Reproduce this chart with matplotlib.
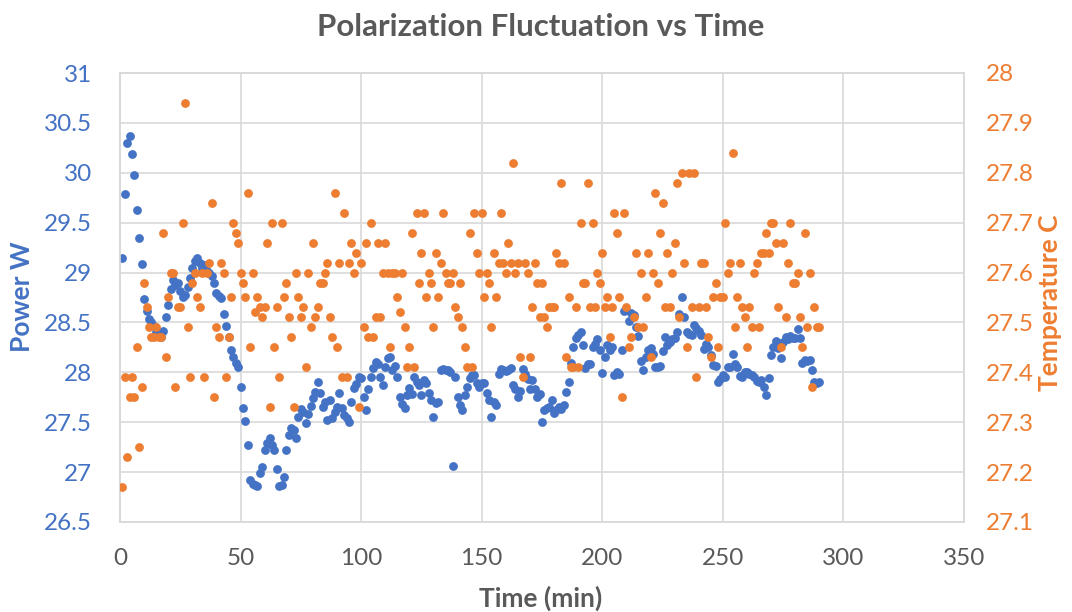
"""Polarization fluctuation vs time: laser power and temperature on twin axes."""

import matplotlib.pyplot as plt
from matplotlib.ticker import FuncFormatter, MultipleLocator

BLUE = "#4472C4"
ORANGE = "#ED7D31"
GRAY = "#595959"
GRID = "#D9D9D9"

# power (W), one reading per minute starting at minute 1
power_w = [
    29.15, 29.79, 30.30, 30.37, 30.19, 29.98, 29.63, 29.35, 29.09, 28.73,
    28.61, 28.53, 28.50, 28.46, 28.40, 28.38, 28.35, 28.41, 28.55, 28.67,
    28.84, 28.93, 28.88, 28.90, 28.82, 28.76, 28.78, 28.86, 28.95, 29.05,
    29.12, 29.15, 29.10, 29.05, 29.08, 29.02, 29.00, 28.97, 28.90, 28.80,
    28.77, 28.75, 28.58, 28.46, 28.35, 28.22, 28.15, 28.09, 28.05, 27.85,
    27.64, 27.51, 27.27, 26.92, 26.88, 26.87, 26.86, 26.99, 27.05, 27.22,
    27.29, 27.34, 27.27, 27.22, 27.03, 26.86, 26.87, 26.95, 27.22, 27.37,
    27.44, 27.42, 27.34, 27.55, 27.63, 27.60, 27.49, 27.58, 27.66, 27.74,
    27.80, 27.90, 27.79, 27.65, 27.70, 27.52, 27.72, 27.54, 27.60, 27.65,
    27.79, 27.64, 27.57, 27.54, 27.50, 27.70, 27.84, 27.88, 27.95, 27.94,
    27.75, 27.62, 27.83, 27.95, 28.04, 28.10, 28.08, 27.95, 27.87, 28.05,
    28.14, 28.15, 28.02, 28.06, 27.95, 27.75, 27.68, 27.64, 27.77, 27.84,
    27.78, 27.95, 27.90, 27.87, 27.77, 27.92, 27.89, 27.79, 27.72, 27.55,
    27.69, 27.70, 28.02, 28.03, 28.02, 28.02, 28.00, 27.06, 27.95, 27.75,
    27.67, 27.62, 27.77, 27.85, 27.94, 27.97, 27.97, 27.89, 27.85, 27.89,
    27.89, 27.79, 27.72, 27.55, 27.70, 27.67, 27.98, 28.03, 28.02, 28.01,
    28.02, 28.04, 27.87, 27.83, 27.75, 27.81, 28.03, 27.98, 27.93, 27.83,
    27.92, 27.83, 27.75, 27.78, 27.50, 27.62, 27.64, 27.65, 27.72, 27.59,
    27.62, 27.65, 27.63, 27.67, 27.80, 27.90, 28.09, 28.25, 28.34, 28.37,
    28.40, 28.27, 28.04, 28.08, 28.08, 28.25, 28.28, 28.33, 28.22, 27.99,
    28.15, 28.27, 28.22, 28.25, 27.97, 28.00, 27.98, 28.22, 28.61, 28.62,
    28.51, 28.59, 28.57, 28.45, 28.36, 28.11, 28.02, 28.15, 28.22, 28.24,
    28.18, 28.05, 28.05, 28.06, 28.21, 28.35, 28.27, 28.30, 28.33, 28.34,
    28.40, 28.58, 28.76, 28.55, 28.40, 28.38, 28.37, 28.47, 28.44, 28.41,
    28.37, 28.23, 28.28, 28.25, 28.17, 28.07, 28.06, 27.90, 27.93, 27.97,
    27.95, 28.05, 28.05, 28.18, 28.08, 28.05, 27.96, 27.95, 28.00, 28.00,
    27.98, 27.97, 27.95, 27.91, 27.90, 27.92, 27.85, 27.77, 27.94, 28.17,
    28.25, 28.31, 28.24, 28.14, 28.30, 28.35, 28.33, 28.36, 28.34, 28.34,
    28.43, 28.34, 28.09, 28.12, 28.11, 28.12, 28.02, 27.90, 27.89, 27.90,
]

# temperature (C), same minutes
temperature_c = [
    27.17, 27.39, 27.23, 27.35, 27.39, 27.35, 27.45, 27.25, 27.37, 27.58,
    27.53, 27.49, 27.47, 27.47, 27.49, 27.47, 27.47, 27.68, 27.43, 27.55,
    27.60, 27.60, 27.37, 27.53, 27.53, 27.70, 27.94, 27.49, 27.39, 27.58,
    27.60, 27.55, 27.53, 27.60, 27.39, 27.60, 27.62, 27.74, 27.35, 27.49,
    27.47, 27.62, 27.60, 27.39, 27.47, 27.55, 27.70, 27.68, 27.66, 27.60,
    27.58, 27.55, 27.76, 27.45, 27.60, 27.52, 27.55, 27.53, 27.51, 27.53,
    27.66, 27.33, 27.70, 27.45, 27.53, 27.39, 27.70, 27.55, 27.58, 27.51,
    27.47, 27.33, 27.60, 27.55, 27.51, 27.53, 27.41, 27.60, 27.49, 27.66,
    27.51, 27.53, 27.58, 27.58, 27.60, 27.62, 27.51, 27.47, 27.76, 27.45,
    27.62, 27.39, 27.72, 27.39, 27.62, 27.66, 27.60, 27.64, 27.33, 27.62,
    27.49, 27.66, 27.47, 27.70, 27.47, 27.51, 27.66, 27.51, 27.60, 27.66,
    27.60, 27.45, 27.60, 27.60, 27.55, 27.52, 27.60, 27.49, 27.41, 27.45,
    27.68, 27.41, 27.72, 27.58, 27.64, 27.72, 27.55, 27.60, 27.58, 27.49,
    27.64, 27.55, 27.62, 27.72, 27.60, 27.58, 27.58, 27.60, 27.53, 27.51,
    27.58, 27.49, 27.45, 27.41, 27.68, 27.41, 27.72, 27.64, 27.60, 27.72,
    27.55, 27.60, 27.58, 27.49, 27.64, 27.55, 27.62, 27.72, 27.62, 27.60,
    27.66, 27.62, 27.82, 27.60, 27.62, 27.43, 27.39, 27.62, 27.60, 27.43,
    27.53, 27.62, 27.58, 27.51, 27.58, 27.51, 27.49, 27.53, 27.53, 27.53,
    27.64, 27.62, 27.78, 27.62, 27.43, 27.55, 27.41, 27.41, 27.53, 27.41,
    27.70, 27.58, 27.58, 27.78, 27.53, 27.70, 27.53, 27.60, 27.58, 27.64,
    27.53, 27.55, 27.47, 27.53, 27.72, 27.68, 27.55, 27.35, 27.72, 27.53,
    27.45, 27.47, 27.51, 27.64, 27.49, 27.60, 27.49, 27.55, 27.64, 27.43,
    27.60, 27.76, 27.58, 27.68, 27.74, 27.53, 27.64, 27.53, 27.60, 27.66,
    27.78, 27.51, 27.80, 27.62, 27.45, 27.80, 27.53, 27.80, 27.39, 27.53,
    27.62, 27.62, 27.53, 27.47, 27.43, 27.55, 27.58, 27.45, 27.55, 27.55,
    27.70, 27.60, 27.62, 27.84, 27.49, 27.55, 27.62, 27.53, 27.51, 27.45,
    27.53, 27.49, 27.60, 27.62, 27.49, 27.64, 27.64, 27.68, 27.64, 27.70,
    27.70, 27.66, 27.53, 27.45, 27.66, 27.51, 27.62, 27.70, 27.58, 27.58,
    27.60, 27.51, 27.45, 27.68, 27.49, 27.60, 27.37, 27.53, 27.49, 27.49,
]

minutes = list(range(1, len(power_w) + 1))


def fmt(v, _pos):
    return f"{v:g}"


def main() -> None:
    plt.rcParams["font.family"] = ["Lato", "DejaVu Sans"]

    fig = plt.figure(figsize=(10.72, 6.12), dpi=100)
    ax = fig.add_axes([120 / 1072, 1 - 522 / 612, 844 / 1072, 449 / 612])
    ax2 = ax.twinx()

    ax.set_xlim(0, 350)
    ax.set_ylim(26.5, 31)
    ax2.set_ylim(27.1, 28)
    ax.xaxis.set_major_locator(MultipleLocator(50))
    ax.yaxis.set_major_locator(MultipleLocator(0.5))
    ax2.yaxis.set_major_locator(MultipleLocator(0.1))
    ax.yaxis.set_major_formatter(FuncFormatter(fmt))
    ax2.yaxis.set_major_formatter(FuncFormatter(lambda v, p: f"{v:.1f}" if abs(v - 28) > 1e-6 else "28"))

    ax.grid(True, color=GRID, linewidth=1.2)
    ax.set_axisbelow(True)
    for a in (ax, ax2):
        for s in a.spines.values():
            s.set_color(GRID)
            s.set_linewidth(1.2)

    ax.tick_params(axis="x", length=0, pad=19, labelsize=17.5, labelcolor=GRAY)
    ax.tick_params(axis="y", length=0, pad=20, labelsize=17.5, labelcolor=BLUE)
    ax2.tick_params(axis="y", length=0, pad=16, labelsize=17.5, labelcolor=ORANGE)

    ax.scatter(minutes, power_w, s=40, color=BLUE, linewidths=0, zorder=3)
    ax2.scatter(minutes, temperature_c, s=40, color=ORANGE, linewidths=0, zorder=3)

    fig.text(541 / 1072, 1 - 27 / 612, "Polarization Fluctuation vs Time",
             ha="center", va="center", fontsize=22.5, fontweight="bold", color=GRAY)
    fig.text(541 / 1072, 1 - 598 / 612, "Time (min)", ha="center", va="center",
             fontsize=19, fontweight="bold", color=GRAY)
    fig.text(22 / 1072, 1 - 297 / 612, "Power W", ha="center", va="center", rotation=90,
             fontsize=19, fontweight="bold", color=BLUE)
    fig.text(1050 / 1072, 1 - 303 / 612, "Temperature C", ha="center", va="center", rotation=90,
             fontsize=19, fontweight="bold", color=ORANGE)

    fig.savefig("out.png", dpi=100)
    plt.close(fig)


if __name__ == "__main__":
    main()
